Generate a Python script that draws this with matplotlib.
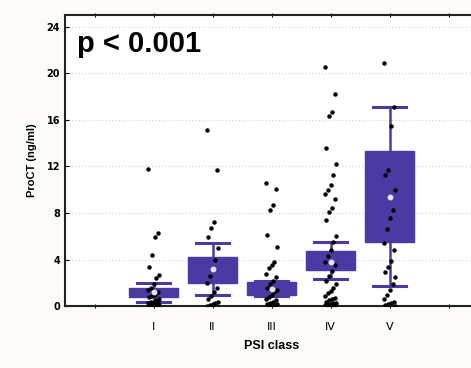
import matplotlib.pyplot as plt

# PSI classes and ProCT values (ng/ml)
classes = ["I", "II", "III", "IV", "V"]

vals_I = [11.8, 6.3, 5.9, 4.4, 3.4, 2.7, 2.4, 1.9, 1.6, 1.4, 1.2, 1.0, 0.9, 0.8,
          0.6, 0.5, 0.4, 0.35, 0.3, 0.25, 0.2, 0.15, 0.1, 0.1, 0.05, 0.05]
vals_II = [15.1, 11.7, 7.2, 6.7, 5.9, 5.0, 4.0, 3.2, 2.6, 2.0, 1.6, 1.2, 0.9,
           0.6, 0.4, 0.3, 0.2, 0.1, 0.05]
vals_III = [10.6, 10.1, 8.7, 8.3, 6.1, 5.1, 3.8, 3.5, 3.3, 2.8, 2.5, 2.2, 1.9,
            1.6, 1.4, 1.2, 1.0, 0.8, 0.6, 0.5, 0.4, 0.3, 0.2, 0.15, 0.1, 0.05, 0.05]
vals_IV = [20.5, 18.2, 16.7, 16.3, 13.6, 12.2, 11.3, 10.4, 10.0, 9.6, 9.2, 8.4,
           8.1, 7.4, 6.0, 5.5, 4.8, 4.3, 3.8, 3.5, 3.0, 2.6, 2.2, 1.9, 1.6, 1.3,
           1.1, 0.9, 0.7, 0.6, 0.5, 0.4, 0.3, 0.25, 0.2, 0.15, 0.1, 0.1, 0.05, 0.05]
vals_V = [20.9, 17.1, 15.5, 11.7, 11.3, 10.0, 8.3, 7.6, 6.6, 5.4, 4.8, 3.9, 3.4,
          2.9, 2.5, 1.9, 1.4, 1.0, 0.6, 0.4, 0.3, 0.2, 0.1, 0.05]

# box summary: mean, box bottom/top, whisker low/high
means = [1.2, 3.2, 1.5, 3.8, 9.4]
box_lo = [0.8, 2.0, 0.95, 3.1, 5.5]
box_hi = [1.6, 4.2, 2.1, 4.7, 13.3]
whis_lo = [0.4, 0.95, 0.85, 2.3, 1.7]
whis_hi = [2.0, 5.4, 2.2, 5.5, 17.1]

purple = "#4b3aa3"
bg = "#fcfbf7"

fig = plt.figure(figsize=(4.71, 3.68), dpi=100, facecolor=bg)
ax = fig.add_axes([0.138, 0.168, 0.877, 0.791])
ax.set_facecolor("white")

stats = []
for i in range(5):
    stats.append({"med": means[i], "q1": box_lo[i], "q3": box_hi[i],
                  "whislo": whis_lo[i], "whishi": whis_hi[i], "fliers": []})
pos = [1, 2, 3, 4, 5]
ax.bxp(stats, positions=pos, widths=0.82, patch_artist=True, showfliers=False,
       boxprops=dict(facecolor=purple, edgecolor=purple, linewidth=1),
       whiskerprops=dict(color=purple, linewidth=1.8),
       capprops=dict(color=purple, linewidth=2.2),
       medianprops=dict(linewidth=0), capwidths=0.55, zorder=2)

# jittered raw values
groups = [vals_I, vals_II, vals_III, vals_IV, vals_V]
for p, g in zip(pos, groups):
    xs = [p + ((k * 7) % 9 - 4) * 0.025 for k in range(len(g))]
    ax.plot(xs, g, "o", color="black", markersize=2.2, zorder=3)

ax.plot(pos, means, "o", color="#e8e0f4", markersize=3.2, zorder=4)

ax.set_xlim(-0.5, 6.5)
ax.set_ylim(0, 25)
ax.set_yticks(range(0, 25, 4))
ax.set_xticks(range(0, 7))
ax.set_xticklabels([""] + classes + [""], fontsize=8)
ax.tick_params(axis="y", labelsize=7, length=3, direction="in")
ax.tick_params(axis="x", length=3, direction="inout", top=True, pad=10)
for lab in ax.get_yticklabels():
    lab.set_fontweight("bold")

ax.grid(axis="y", linestyle=(0, (1, 2)), color="#d0d0d0", linewidth=0.8)
ax.set_axisbelow(True)
ax.spines["right"].set_visible(False)
for s in ["left", "bottom", "top"]:
    ax.spines[s].set_linewidth(1.5)
    ax.spines[s].set_color("#222222")

ax.set_ylabel("ProCT (ng/ml)", fontsize=8, fontweight="bold", family="Liberation Sans",
              labelpad=7)
ax.set_xlabel("PSI class", fontsize=9, fontweight="bold", family="Liberation Sans",
              labelpad=6)
ax.text(0.03, 0.90, "p < 0.001", transform=ax.transAxes, fontsize=21,
        fontweight="bold", family="Liberation Sans", va="center")

fig.savefig("out.png", dpi=100, facecolor=bg)
